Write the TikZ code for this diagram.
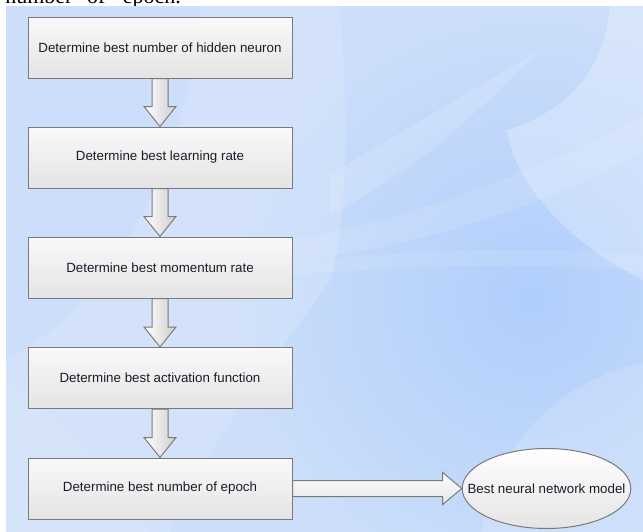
\documentclass[tikz,border=0pt]{standalone}
\usepackage{fontspec}
\setmainfont{Liberation Sans}
\newfontfamily\bodyserif{Liberation Serif}
\usetikzlibrary{shapes.geometric,calc}

\definecolor{panelblue}{HTML}{CCDEFA}
\definecolor{deepblue}{HTML}{B0CEFB}
\definecolor{boxtop}{HTML}{F9F9F9}
\definecolor{boxbot}{HTML}{E4E4E4}
\definecolor{boxedge}{HTML}{7A7A7A}
\definecolor{inkc}{HTML}{1C1C2A}

\tikzset{
  stepbox/.style={draw=boxedge, line width=0.75pt, top color=boxtop, bottom color=boxbot,
    minimum width=198pt, minimum height=45.75pt, inner sep=0pt,
    font=\fontsize{10}{12}\selectfont, text=inkc},
  goalnode/.style={ellipse, draw=boxedge, line width=0.75pt, top color=white, bottom color=boxbot,
    inner xsep=-14.5pt, minimum height=60pt, inner ysep=0pt,
    font=\fontsize{10}{12}\selectfont, text=inkc},
  downarrow/.style={draw=boxedge, line width=0.75pt, line join=miter,
    left color=white, right color=boxbot!90!black},
  sidearrow/.style={draw=boxedge, line width=0.75pt, line join=miter,
    top color=white, bottom color=boxbot},
  glow/.style={fill=white, opacity=#1},
}

\begin{document}
\begin{tikzpicture}[x=0.75pt, y=-0.75pt]
\useasboundingbox (0,0) rectangle (643,532);
\fill[white] (0,0) rectangle (643,532);

% tail of the preceding text line
\node[anchor=base west, inner sep=0pt, font=\bodyserif\fontsize{16.5}{18}\selectfont]
  (caption) at (5,3) {number\hspace{11pt}of\hspace{13pt}epoch.};

% soft blue backdrop with lighter sweeps
\begin{scope}
  \clip (6,6) rectangle (643,532);
  \fill[panelblue] (6,6) rectangle (643,532);
  \shade[inner color=deepblue, outer color=panelblue] (530,300) circle (300);
  \fill[glow=0.14] (200,6) .. controls (190,150) and (120,300) .. (6,360)
     -- (6,532) -- (170,532) .. controls (220,420) and (290,340) .. (330,280)
     .. controls (345,230) and (350,150) .. (340,6) -- cycle;
  \fill[glow=0.08] (6,380) .. controls (60,420) and (120,470) .. (150,532) -- (6,532) -- cycle;
  \fill[glow=0.25] (610,6) .. controls (604,70) and (570,110) .. (507,130)
     .. controls (515,190) and (580,250) .. (643,280) -- (643,6) -- cycle;
  \fill[glow=0.16] (680,560) circle (200);
  \fill[glow=0.14] (330,175) .. controls (420,120) and (490,80) .. (540,50)
     .. controls (490,100) and (420,170) .. (330,215) -- cycle;
  \fill[glow=0.12] (290,240) .. controls (420,220) and (560,160) .. (643,115)
     -- (643,150) .. controls (560,200) and (430,245) .. (290,262) -- cycle;
  \fill[glow=0.1] (290,262) .. controls (420,250) and (540,245) .. (643,255)
     -- (643,272) .. controls (540,262) and (420,265) .. (290,275) -- cycle;
\end{scope}

% process steps
\node[stepbox] (s1) at (160,47.5)  {Determine best number of hidden neuron};
\node[stepbox] (s2) at (160,157.5) {Determine best learning rate};
\node[stepbox] (s3) at (160,267.5) {Determine best momentum rate};
\node[stepbox] (s4) at (160,378)   {Determine best activation function};
\node[stepbox] (s5) at (160,488.5) {Determine best number of epoch};
\node[goalnode] (goal) at (546.5,488.5) {Best neural network model};

% hollow block arrows between the steps
\foreach \a/\b in {s1/s2, s2/s3, s3/s4, s4/s5}{
  \draw[downarrow] ($(\a.south)+(-8,0)$) -- ($(\b.north)+(-8,-20)$)
    -- ($(\b.north)+(-16,-20)$) -- (\b.north) -- ($(\b.north)+(16,-20)$)
    -- ($(\b.north)+(8,-20)$) -- ($(\a.south)+(8,0)$) -- cycle;
}
\draw[sidearrow] ($(s5.east)+(0,-8)$) -- ($(goal.west)+(-19,-8)$)
  -- ($(goal.west)+(-19,-16)$) -- (goal.west) -- ($(goal.west)+(-19,16)$)
  -- ($(goal.west)+(-19,8)$) -- ($(s5.east)+(0,8)$) -- cycle;
\end{tikzpicture}
\end{document}
